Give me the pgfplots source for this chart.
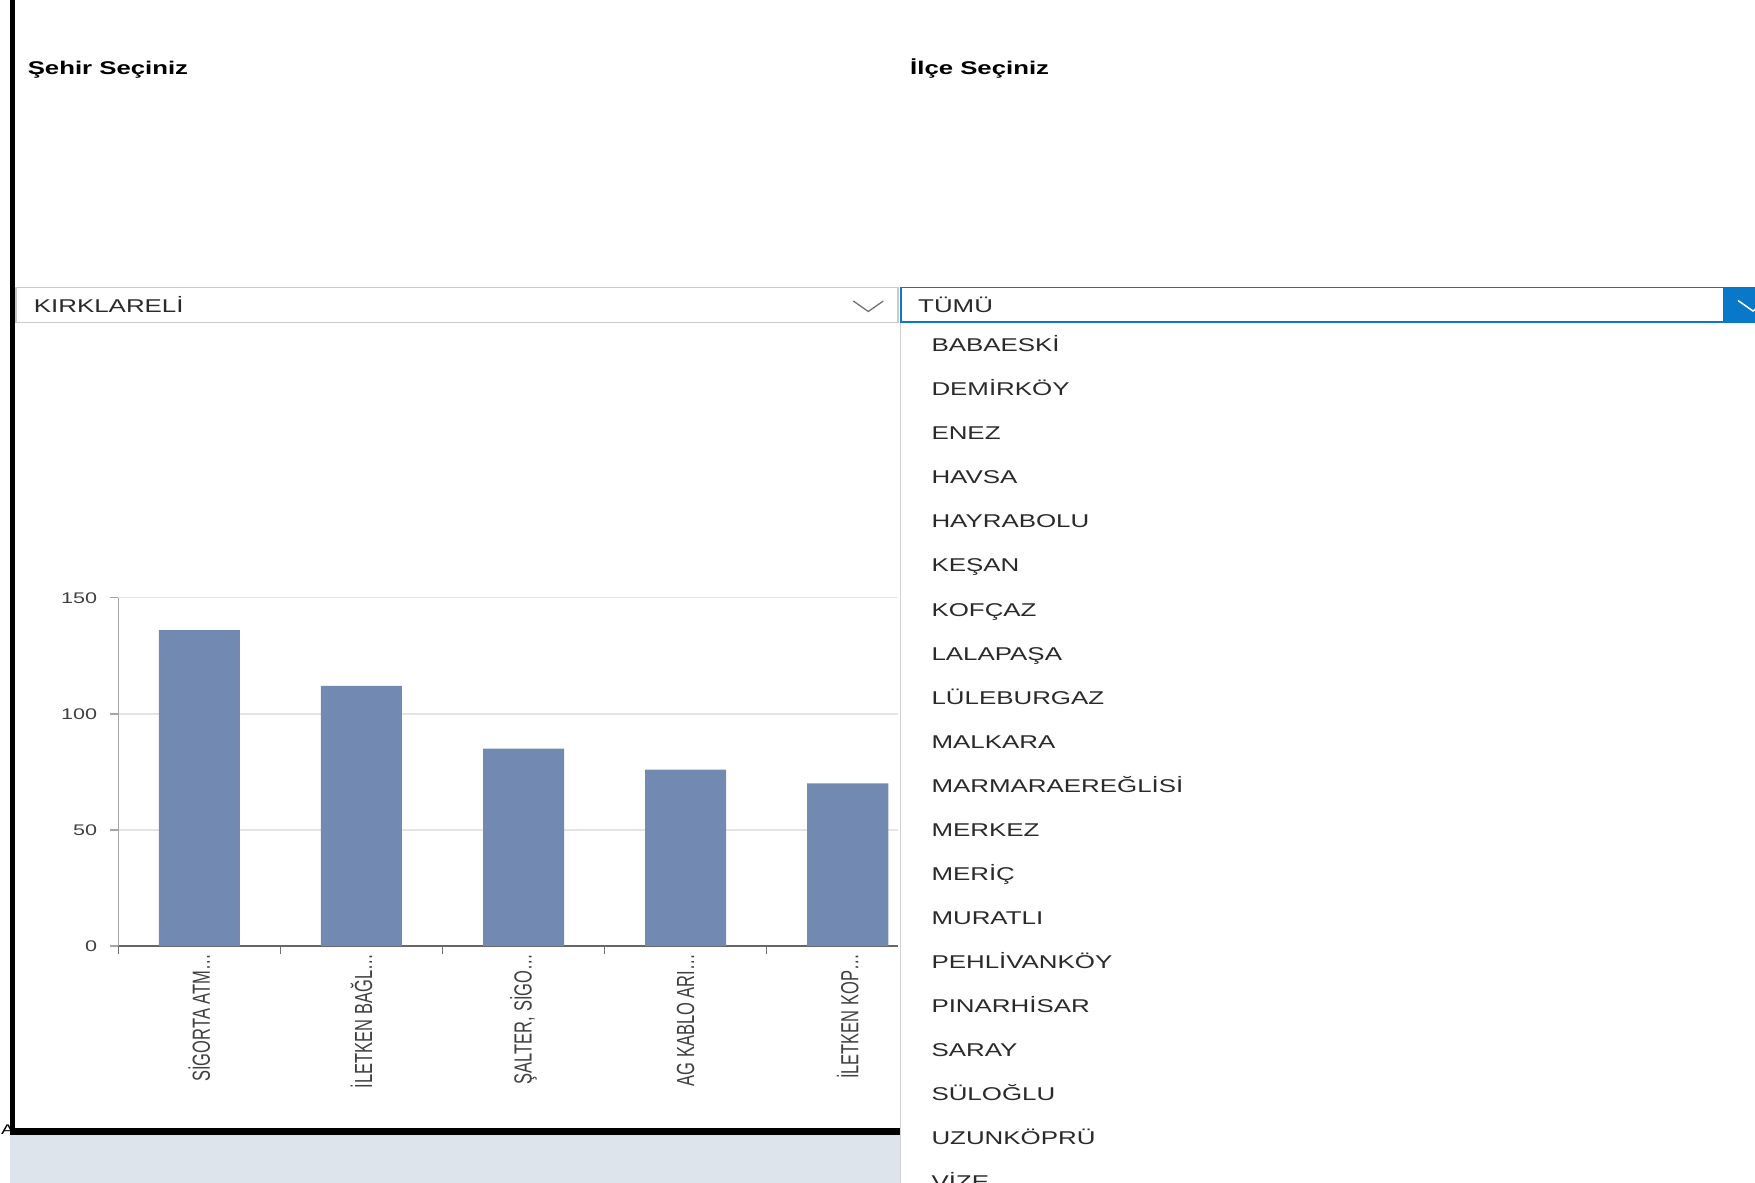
\documentclass[border=0pt]{standalone}
\usepackage{pgfplots}
\pgfplotsset{compat=1.18}
\usepackage{fontspec}
\setmainfont[FakeStretch=1.4]{Liberation Sans}
\newfontfamily\narrowsans{Liberation Sans}
\definecolor{barblue}{HTML}{728AB1}
\definecolor{selblue}{HTML}{0A78C8}
\definecolor{ticktext}{HTML}{404040}
\definecolor{itemtext}{HTML}{2A2A2A}
\definecolor{gridgray}{HTML}{E4E4E4}
\definecolor{axisgray}{HTML}{A4A4A4}
\definecolor{boxgray}{HTML}{CACACA}
\definecolor{footer}{HTML}{DDE4EC}
\newcommand\xl[1]{\scalebox{1}[1.5]{#1}}

\begin{document}
\begin{tikzpicture}
\path[use as bounding box] (0,0) rectangle (1755bp,-1183bp);
\clip (0,0) rectangle (1755bp,-1183bp);

% footer strip
\begin{scope}[x=1bp,y=-1bp]
\fill[footer] (10,1135) rectangle (1755,1183);
\node[anchor=base west,inner sep=0pt,font=\fontsize{14bp}{16bp}\selectfont] at (1,1134) {A};
\end{scope}

\begin{axis}[
  at={(118.3bp,-946bp)}, anchor=south west,
  scale only axis, width=780bp, height=348.3bp,
  xmin=-0.5, xmax=4.312, ymin=0, ymax=150,
  axis x line*=bottom, axis y line*=left,
  x axis line style={draw=black!60, line width=1.4bp},
  y axis line style={draw=axisgray, line width=1.6bp},
  ytick={0,50,100,150},
  ymajorgrids, grid style={draw=gridgray, line width=1.5bp},
  xtick={0,1,2,3,4},
  xticklabels={{\xl{SİGORTA ATM…}},{\xl{İLETKEN BAĞL…}},{\xl{ŞALTER, SİGO…}},{\xl{AG KABLO ARI…}},{\xl{İLETKEN KOP…}}},
  minor xtick={-0.5,0.5,1.5,2.5,3.5},
  tick align=outside,
  major tick length=8bp, minor tick length=8bp,
  major x tick style={draw=none},
  major y tick style={draw=axisgray, line width=1.4bp},
  minor x tick style={draw=black!55, line width=1.3bp},
  tick label style={font=\fontsize{15.4bp}{18bp}\selectfont, text=ticktext},
  /pgf/number format/assume math mode=true,
  yticklabel style={inner sep=0pt},
  yticklabel shift=13bp,
  xticklabel style={font=\narrowsans\fontsize{16.5bp}{19bp}\selectfont, rotate=90, anchor=east, inner sep=0pt},
  xticklabel shift=0bp,
  ybar, bar width=0.5,
]
\addplot[fill=barblue, draw=none] coordinates {(0,136) (1,112) (2,85) (3,76) (4,70)};
\end{axis}

\begin{scope}[x=1bp,y=-1bp]
% thick frame
\fill[black] (9.8,0) rectangle (15.2,1135);
\fill[black] (9.8,1128.3) rectangle (900,1135);

% titles
\node[anchor=base west,inner sep=0pt,font=\bfseries\fontsize{18.4bp}{22bp}\selectfont] at (27.6,74) {Şehir Seçiniz};
\node[anchor=base west,inner sep=0pt,font=\bfseries\fontsize{18.4bp}{22bp}\selectfont] at (910,74) {İlçe Seçiniz};

% city dropdown
\draw[boxgray, line width=1.5bp] (16,287.5) rectangle (898,322.3);
\node[anchor=base west,inner sep=0pt,font=\fontsize{18.5bp}{22bp}\selectfont,text=itemtext] at (33.7,312.7) {KIRKLARELİ};
\draw[black!55, line width=1.3bp] (853.3,301) -- (868.3,311.5) -- (883.3,301);

% open district list
\fill[white] (900.6,322) rectangle (1760,1190);
\draw[black!18, line width=1.5bp] (900.6,322) -- (900.6,1190);
\foreach \n [count=\i from 0] in {BABAESKİ,DEMİRKÖY,ENEZ,HAVSA,HAYRABOLU,KEŞAN,KOFÇAZ,LALAPAŞA,LÜLEBURGAZ,MALKARA,MARMARAEREĞLİSİ,MERKEZ,MERİÇ,MURATLI,PEHLİVANKÖY,PINARHİSAR,SARAY,SÜLOĞLU,UZUNKÖPRÜ,VİZE}
  \node[anchor=base west,inner sep=0pt,font=\fontsize{18.5bp}{22bp}\selectfont,text=itemtext] at (931.3,{351.7+44.05*\i}) {\n};

% district dropdown
\fill[white] (900.6,287) rectangle (1723,323);
\draw[selblue, line width=1.8bp] (900.6,287.5) rectangle (1760,322.3);
\fill[selblue] (1722.6,286.6) rectangle (1760,323.2);
\draw[white, line width=1.5bp] (1738,300.5) -- (1753,311) -- (1768,300.5);
\node[anchor=base west,inner sep=0pt,font=\fontsize{18.5bp}{22bp}\selectfont,text=itemtext] at (918,312.3) {TÜMÜ};
\end{scope}
\end{tikzpicture}
\end{document}
